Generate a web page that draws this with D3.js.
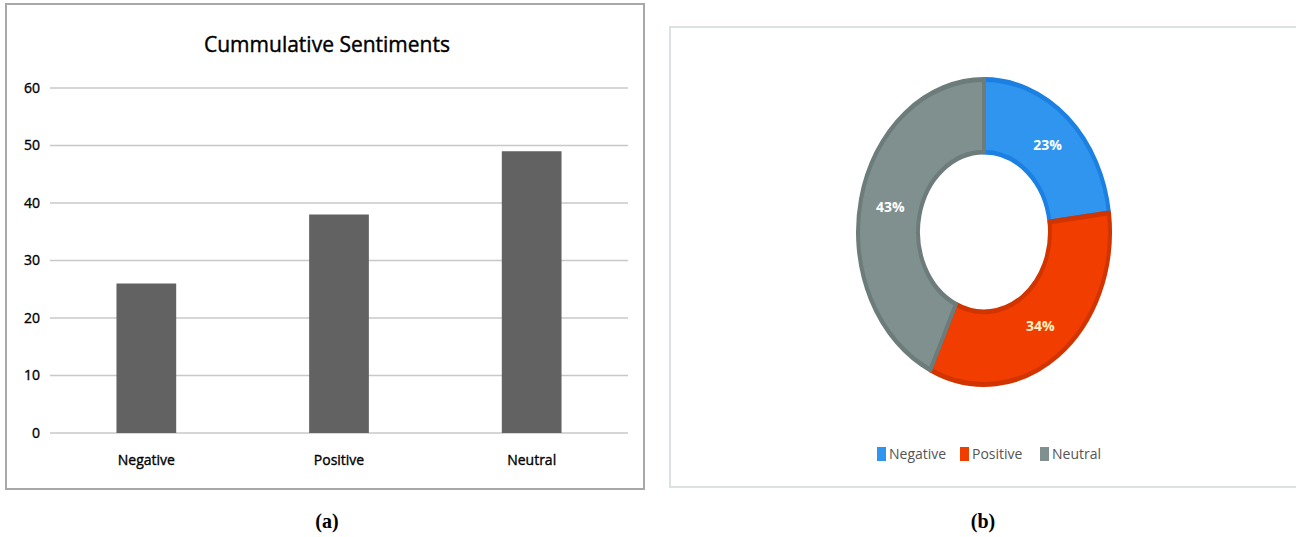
<!DOCTYPE html>
<html lang="en">
<head>
    <meta charset="UTF-8">
    <title>Cummulative Sentiments</title>
    <script src="https://cdnjs.cloudflare.com/ajax/libs/d3/7.8.5/d3.min.js"></script>
    <style>
        body{
            margin: 0;
            background: #fff;
        }
        .titulo{
            font-family: 'Open Sans', sans-serif;
            font-size: 21px;
            fill: #000;
            stroke: #000;
            stroke-width: 0.4;
        }
        .ejes text{
            font-family: 'Open Sans', sans-serif;
            font-size: 14px;
            fill: #000;
            stroke: #000;
            stroke-width: 0.35;
        }
        .grid line{
            stroke: #c8c8c8;
            stroke-width: 1.5;
        }
        .barras{
            fill: #626262;
        }
        .porcentaje{
            font-family: 'Open Sans', sans-serif;
            font-weight: 700;
            font-size: 14px;
        }
        .leyenda{
            font-family: 'Open Sans', sans-serif;
            font-size: 14px;
            fill: #555;
        }
        .caption{
            font-family: 'Liberation Serif', serif;
            font-weight: 700;
            font-size: 20px;
            fill: #000;
        }
    </style>
</head>
<body>
<div id="grafico"></div>

<script>

var categorias = ["Negative", "Positive", "Neutral"];
var valores = [26, 38, 49];
var yTicks = [0, 10, 20, 30, 40, 50, 60];
var porcentajes = [23, 34, 43];
var colores = ["#2f95ef", "#f23d00", "#7f908f"];
var bordes = ["#1b80e2", "#d23400", "#6c7c7b"];
var textoColores = ["#ffffff", "#fff2c4", "#ffffff"];

var w = 1296;
var h = 537;

var svg = d3.select("#grafico")
    .append("svg")
    .attr("width", w)
    .attr("height", h);

// ---------- panel (a): barras ----------
svg.append("rect")
    .attr("x", 6)
    .attr("y", 4)
    .attr("width", 638)
    .attr("height", 485)
    .attr("fill", "none")
    .attr("stroke", "#a8a8a8")
    .attr("stroke-width", 2);

svg.append("text")
    .classed("titulo", true)
    .text("Cummulative Sentiments")
    .attr("x", 327)
    .attr("y", 52)
    .attr("text-anchor", "middle");

var xScale = d3.scaleBand()
    .domain(categorias)
    .range([50, 628])
    .paddingInner(0.69)
    .paddingOuter(0.345);

var yScale = d3.scaleLinear()
    .domain([0, 60])
    .range([433, 88]);

var grid = svg.append("g")
    .classed("grid", true)
    .selectAll("line")
    .data(yTicks)
    .enter()
    .append("line")
    .attr("x1", 50)
    .attr("x2", 628)
    .attr("y1", function(d){ return yScale(d); })
    .attr("y2", function(d){ return yScale(d); });

var yAxis = svg.append("g")
    .classed("ejes", true)
    .attr("transform", "translate(40,0)")
    .call(d3.axisLeft(yScale).tickValues(yTicks).tickSize(0).tickPadding(0));
yAxis.select(".domain").remove();

var barras = svg.selectAll(".barras")
    .data(valores)
    .enter()
    .append("rect")
    .classed("barras", true)
    .attr("x", function(d, i){ return xScale(categorias[i]); })
    .attr("width", xScale.bandwidth())
    .attr("y", function(d){ return yScale(d); })
    .attr("height", function(d){ return yScale(0) - yScale(d); });

var xAxis = svg.append("g")
    .classed("ejes", true)
    .attr("transform", "translate(0,455)")
    .call(d3.axisBottom(xScale).tickSize(0).tickPadding(0));
xAxis.select(".domain").remove();

// ---------- panel (b): dona ----------
svg.append("rect")
    .attr("x", 670)
    .attr("y", 27)
    .attr("width", 640)
    .attr("height", 460)
    .attr("fill", "none")
    .attr("stroke", "#dce2e2")
    .attr("stroke-width", 2);

var pie = d3.pie().sort(null)(porcentajes);
var rExt = 128;
var rInt = 64;
var arco = d3.arc().innerRadius(rInt + 2).outerRadius(rExt - 2);
var arcoTexto = d3.arc().innerRadius((rExt + rInt) / 2).outerRadius((rExt + rInt) / 2);

var dona = svg.append("g")
    .attr("transform", "translate(984,232) scale(1,1.21)");

dona.selectAll("path")
    .data(pie)
    .enter()
    .append("path")
    .attr("d", arco)
    .attr("fill", function(d, i){ return colores[i]; })
    .attr("stroke", function(d, i){ return bordes[i]; })
    .attr("stroke-width", 4)
    .attr("stroke-linejoin", "round");

svg.selectAll(".porcentaje")
    .data(pie)
    .enter()
    .append("text")
    .classed("porcentaje", true)
    .text(function(d){ return d.data + "%"; })
    .attr("x", function(d){ return 984 + arcoTexto.centroid(d)[0]; })
    .attr("y", function(d){ return 232 + arcoTexto.centroid(d)[1] * 1.21 + 5; })
    .attr("text-anchor", "middle")
    .attr("fill", function(d, i){ return textoColores[i]; });

var legX = [877, 960, 1040];
var leyenda = svg.selectAll(".itemLeyenda")
    .data(categorias)
    .enter()
    .append("g")
    .attr("transform", function(d, i){ return "translate(" + legX[i] + ",447)"; });

leyenda.append("rect")
    .attr("width", 9)
    .attr("height", 14)
    .attr("fill", function(d, i){ return colores[i]; });

leyenda.append("text")
    .classed("leyenda", true)
    .text(function(d){ return d; })
    .attr("x", 12)
    .attr("y", 12);

// ---------- captions ----------
svg.append("text")
    .classed("caption", true)
    .text("(a)")
    .attr("x", 327)
    .attr("y", 528)
    .attr("text-anchor", "middle");

svg.append("text")
    .classed("caption", true)
    .text("(b)")
    .attr("x", 983)
    .attr("y", 528)
    .attr("text-anchor", "middle");

</script>
</body>
</html>
